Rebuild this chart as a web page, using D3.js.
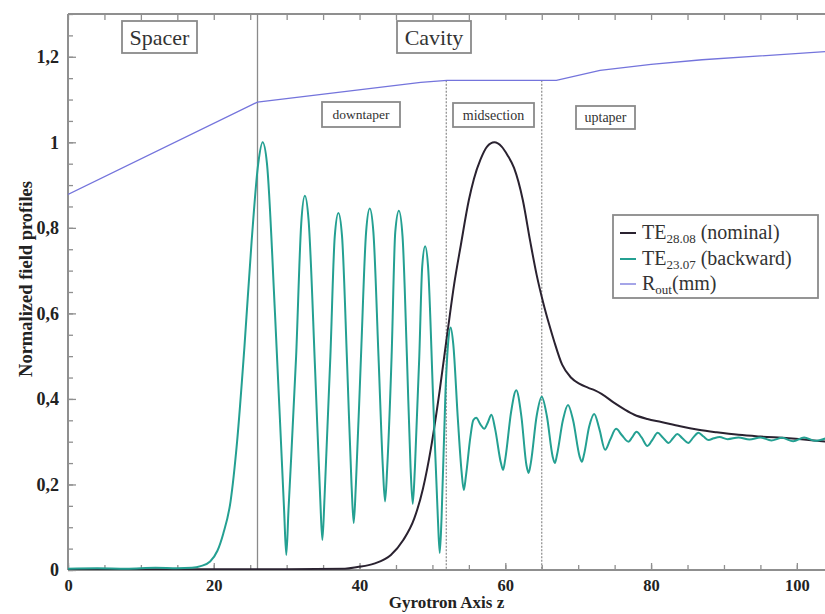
<!DOCTYPE html>
<html><head><meta charset="utf-8">
<script src="https://cdn.jsdelivr.net/npm/d3@7"></script>
<style>body{margin:0;background:#fff}svg{display:block}</style>
</head><body><svg id="c" width="825" height="614"></svg>
<script>
// ---------- data ----------
const xTicks = [0, 20, 40, 60, 80, 100];
const yTicks = [0, 0.2, 0.4, 0.6, 0.8, 1, 1.2];
const seriesNames = ["nominal", "backward", "rout"];
const legendMain = ["TE", "TE", "R"];
const legendSub = ["28.08", "23.07", "out"];
const legendTail = [" (nominal)", " (backward)", "(mm)"];
const regionLabels = ["Spacer", "Cavity", "downtaper", "midsection", "uptaper"];
const sectionBounds = [26, 51.9, 65];   // z of the section dividers

const nominal = [
  [0,0.002],[10,0.002],[20,0.002],[30,0.002],[38,0.003],[39.7,0.007],[42,0.015],[44.3,0.035],[46,0.07],
  [47.5,0.12],[48.7,0.19],[49.8,0.285],[51,0.42],[52.1,0.56],[53,0.67],[53.9,0.76],[55,0.865],[55.7,0.915],
  [56.6,0.96],[57.5,0.99],[58.5,1.0],[59.5,0.99],[60.3,0.97],[61.2,0.94],[62.4,0.865],[63.4,0.77],[64.3,0.69],
  [65.2,0.625],[66,0.575],[66.7,0.535],[67.8,0.48],[69,0.45],[70.2,0.435],[71.4,0.426],[72.3,0.42],[73.2,0.412],
  [75,0.39],[76.4,0.375],[77.7,0.363],[79.5,0.353],[81.4,0.346],[84,0.336],[86.5,0.328],[89,0.322],[92,0.316],
  [95,0.312],[98.9,0.308],[104,0.30]
];

const backward = [
  [0,0.003],[4,0.004],[8,0.003],[12,0.005],[15,0.004],[17,0.005],[18.2,0.009],[19.5,0.02],[20.5,0.045],
  [21.3,0.085],[22.3,0.16],[23.2,0.3],[24.2,0.52],[25.2,0.77],[26.1,0.95],[26.7,1.0],
  [27.3,0.95],[28.4,0.6],[29.65,0.14],[29.95,0.035],[30.25,0.14],
  [31.3,0.5],[32.0,0.81],[32.5,0.875],[33.0,0.82],
  [33.9,0.47],[34.6,0.17],[34.9,0.07],[35.2,0.17],
  [36.0,0.5],[36.6,0.78],[37.1,0.835],[37.6,0.78],
  [38.3,0.48],[38.9,0.2],[39.2,0.11],[39.5,0.2],
  [40.2,0.5],[40.9,0.79],[41.4,0.845],[41.9,0.79],
  [42.6,0.5],[43.2,0.24],[43.5,0.16],[43.8,0.24],
  [44.4,0.5],[44.9,0.79],[45.4,0.84],[45.9,0.78],
  [46.5,0.5],[47.0,0.24],[47.3,0.155],[47.6,0.24],
  [48.2,0.5],[48.6,0.71],[49.0,0.757],[49.4,0.71],
  [50.1,0.4],[50.75,0.12],[51.0,0.04],[51.25,0.12],
  [51.8,0.42],[52.2,0.54],[52.5,0.567],[52.85,0.53],
  [53.5,0.35],[54.0,0.23],[54.3,0.187],[54.6,0.22],
  [55.2,0.31],[55.6,0.35],[56.0,0.356],[56.6,0.34],[57.1,0.33],[57.6,0.345],[58.1,0.363],[58.6,0.33],
  [59.4,0.25],[59.7,0.234],[60.0,0.26],[60.8,0.37],[61.5,0.42],[62.2,0.36],[62.9,0.245],[63.2,0.227],
  [63.5,0.25],[64.3,0.36],[65.0,0.405],[65.7,0.36],[66.5,0.265],[66.8,0.25],[67.1,0.27],[67.9,0.35],
  [68.6,0.386],[69.3,0.35],[70.2,0.265],[70.5,0.253],[70.8,0.27],[71.5,0.335],[72.2,0.365],[72.9,0.33],
  [73.7,0.281],[74.4,0.305],[75.2,0.33],[76.0,0.315],[76.9,0.30],[77.4,0.31],[78.0,0.323],[78.7,0.31],
  [79.5,0.29],[80.2,0.305],[80.9,0.321],[81.6,0.31],[82.4,0.297],[83.0,0.308],[83.6,0.318],[84.3,0.308],
  [85.1,0.297],[85.8,0.31],[86.5,0.321],[87.2,0.312],[87.9,0.304],[88.6,0.308],[89.4,0.311],[90.5,0.306],
  [92,0.31],[93.5,0.305],[95,0.31],[96.5,0.303],[98,0.309],[99.5,0.301],[101,0.31],[102.5,0.302],[104,0.308]
];

const rout = [
  [0,0.878],[26,1.094],[48.4,1.140],[52,1.145],[67,1.145],[73,1.168],[80,1.182],[87,1.193],[95,1.202],[104,1.212]
];

// ---------- layout ----------
const W = 825, H = 614;
const L = { left: 68, right: 826, top: 14, bottom: 570 };
const colors = { nominal: "#2a2230", backward: "#24a092", rout: "#7474dc", axis: "#8f8f8f", grid: "#8a8a8a" };
const serif = "'Liberation Serif','Times New Roman',serif";

const svg = d3.select("#c");
const x = d3.scaleLinear().domain([0, 104]).range([L.left, L.right]);
const y = d3.scaleLinear().domain([0, 1.3]).range([L.bottom, L.top]);

svg.append("defs").append("clipPath").attr("id", "clip")
  .append("rect").attr("x", L.left).attr("y", L.top)
  .attr("width", L.right - L.left).attr("height", L.bottom - L.top);

const fmt = d => d === 0 ? "0" : String(+d.toFixed(1)).replace(".", ",");

const xMinor = d3.range(0, 105, 5);
const yMinor = d3.range(0, 1.3001, 0.05).map(v => +v.toFixed(2));

function styleAxis(g, fs) {
  g.select(".domain").remove();
  g.selectAll("line").attr("stroke", colors.axis).attr("stroke-width", 1.3);
  g.selectAll("text").attr("font-family", serif).attr("font-weight", "bold")
    .attr("font-size", fs || 19).attr("fill", "#222");
}

// bottom axis
svg.append("g").attr("transform", `translate(0,${L.bottom})`)
  .call(d3.axisBottom(x).tickValues(xMinor).tickSize(-5).tickFormat(""))
  .call(styleAxis);
svg.append("g").attr("transform", `translate(0,${L.bottom})`)
  .call(d3.axisBottom(x).tickValues(xTicks).tickSize(-7).tickPadding(9).tickFormat(d3.format("d")))
  .call(g => styleAxis(g, 16.5));
// top axis
svg.append("g").attr("transform", `translate(0,${L.top})`)
  .call(d3.axisTop(x).tickValues(xMinor).tickSize(-6).tickFormat(""))
  .call(styleAxis);
// left axis
svg.append("g").attr("transform", `translate(${L.left},0)`)
  .call(d3.axisLeft(y).tickValues(yMinor).tickSize(-5).tickFormat(""))
  .call(styleAxis);
svg.append("g").attr("transform", `translate(${L.left},0)`)
  .call(d3.axisLeft(y).tickValues(yTicks).tickSize(-8).tickPadding(9).tickFormat(fmt))
  .call(g => styleAxis(g, 18));

// axis frame lines
svg.append("line").attr("x1", L.left).attr("x2", L.left).attr("y1", L.top).attr("y2", L.bottom)
  .attr("stroke", colors.axis).attr("stroke-width", 2);
svg.append("line").attr("x1", L.left).attr("x2", W).attr("y1", L.bottom).attr("y2", L.bottom)
  .attr("stroke", colors.axis).attr("stroke-width", 2.2);
svg.append("line").attr("x1", L.left).attr("x2", W).attr("y1", L.top).attr("y2", L.top)
  .attr("stroke", colors.axis).attr("stroke-width", 2);

// axis titles
svg.append("text").attr("x", (L.left + W) / 2).attr("y", 608).attr("text-anchor", "middle")
  .attr("font-family", serif).attr("font-weight", "bold").attr("font-size", 17).attr("fill", "#222")
  .text("Gyrotron Axis z");
svg.append("text").attr("transform", `translate(32,279) rotate(-90)`).attr("text-anchor", "middle")
  .attr("font-family", serif).attr("font-weight", "bold").attr("font-size", 18.5).attr("fill", "#222")
  .text("Normalized field profiles");

// section dividers
const routAt = z => d3.scaleLinear().domain(rout.map(d => d[0])).range(rout.map(d => d[1]))(z);
svg.append("line").attr("x1", x(sectionBounds[0])).attr("x2", x(sectionBounds[0]))
  .attr("y1", L.top).attr("y2", L.bottom).attr("stroke", colors.grid).attr("stroke-width", 1.3);
sectionBounds.slice(1).forEach(z => {
  svg.append("line").attr("x1", x(z)).attr("x2", x(z)).attr("y1", y(routAt(z))).attr("y2", L.bottom)
    .attr("stroke", colors.grid).attr("stroke-width", 1.2).attr("stroke-dasharray", "2,1.5");
});

// lines
const mkLine = c => d3.line().x(d => x(d[0])).y(d => y(d[1])).curve(c);
const plot = svg.append("g").attr("clip-path", "url(#clip)");
plot.append("path").attr("d", mkLine(d3.curveLinear)(rout))
  .attr("fill", "none").attr("stroke", colors.rout).attr("stroke-width", 1.3);
plot.append("path").attr("d", mkLine(d3.curveMonotoneX)(nominal))
  .attr("fill", "none").attr("stroke", colors.nominal).attr("stroke-width", 2);
plot.append("path").attr("d", mkLine(d3.curveMonotoneX)(backward))
  .attr("fill", "none").attr("stroke", colors.backward).attr("stroke-width", 2);

// annotation boxes (pixel layout)
const boxes = [
  { x: 122, y: 21, w: 75, h: 32, fs: 22 },
  { x: 397, y: 21, w: 74, h: 32, fs: 22 },
  { x: 322, y: 102, w: 78, h: 25, fs: 13.5 },
  { x: 453, y: 103, w: 81, h: 24, fs: 14 },
  { x: 576, y: 106, w: 59, h: 23, fs: 14 }
];
boxes.forEach((b, i) => {
  svg.append("rect").attr("x", b.x).attr("y", b.y).attr("width", b.w).attr("height", b.h)
    .attr("fill", "#fff").attr("stroke", "#8a8a8a").attr("stroke-width", 1.8);
  svg.append("text").attr("x", b.x + b.w / 2).attr("y", b.y + b.h / 2).attr("dy", "0.35em")
    .attr("text-anchor", "middle").attr("font-family", serif).attr("font-size", b.fs).attr("fill", "#333")
    .text(regionLabels[i]);
});

// legend
const lg = svg.append("g");
lg.append("rect").attr("x", 613).attr("y", 215).attr("width", 205).attr("height", 83)
  .attr("fill", "#fff").attr("stroke", "#8a8a8a").attr("stroke-width", 1.8);
const rowsY = [233, 259, 284];
seriesNames.forEach((s, i) => {
  lg.append("line").attr("x1", 620).attr("x2", 636).attr("y1", rowsY[i]).attr("y2", rowsY[i])
    .attr("stroke", colors[s]).attr("stroke-width", s === "rout" ? 1.3 : 2);
  const t = lg.append("text").attr("x", 642).attr("y", rowsY[i] + 6)
    .attr("font-family", serif).attr("font-size", 20).attr("fill", "#333");
  t.append("tspan").text(legendMain[i]);
  t.append("tspan").attr("font-size", 13).attr("dy", 4).text(legendSub[i]);
  t.append("tspan").attr("dy", -4).text(legendTail[i]);
});
</script>
</body></html>
